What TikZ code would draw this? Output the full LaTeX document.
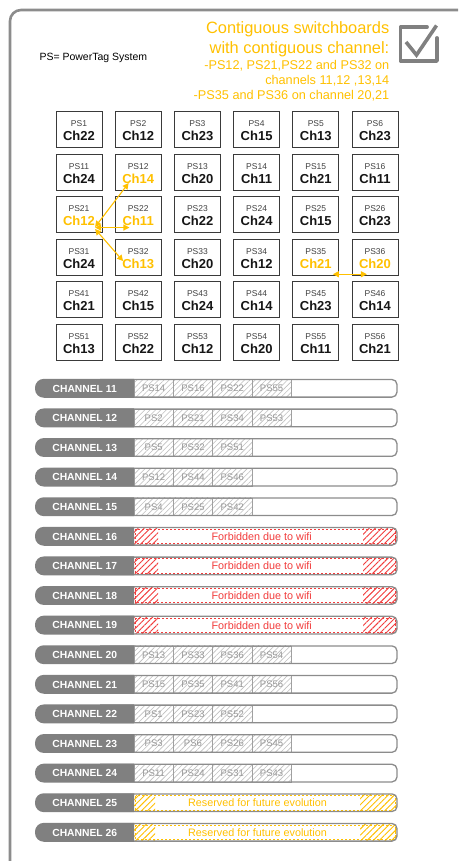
\documentclass[tikz,border=0pt]{standalone}
\usepackage{fontspec}
\setmainfont{Liberation Sans}
\usetikzlibrary{patterns.meta,arrows.meta}
\definecolor{framegray}{HTML}{8C8C8C}
\definecolor{pillgray}{HTML}{808080}
\definecolor{orng}{HTML}{FFC000}
\definecolor{redf}{HTML}{F23C3C}
\definecolor{boxline}{HTML}{3A3A3A}
\definecolor{pstext}{HTML}{404040}
\definecolor{chk}{HTML}{151515}
\definecolor{cellline}{HTML}{A0A0A0}
\definecolor{hatchgray}{HTML}{BFBFBF}
\definecolor{celltext}{HTML}{999999}
\newcommand\fs[1]{\fontsize{#1}{#1}\selectfont}
\tikzset{
  psbox/.style={draw=boxline, line width=0.9pt, minimum width=46pt, minimum height=36pt, inner sep=0pt},
  pslab/.style={font=\fs{8.5}, text=pstext, inner sep=0pt, anchor=base},
  chlab/.style={font=\bfseries\fs{13}, inner sep=0pt, anchor=base},
  conn/.style={{Triangle[length=6pt,width=6pt]}-{Triangle[length=6pt,width=6pt]}, draw=orng, line width=1.1pt},
  baroutline/.style={draw=framegray, line width=1.3pt, rounded corners=5pt},
  chanlab/.style={font=\bfseries\fs{10.3}, text=white, inner sep=0pt, text height=7.4pt, text depth=0pt},
  pscell/.style={draw=cellline, line width=0.6pt, minimum width=39.3pt, minimum height=17.6pt, inner sep=0pt,
    pattern={Lines[angle=45,distance=3.8pt,line width=0.6pt]}, pattern color=hatchgray,
    font=\fs{9.5}, text=celltext, text height=6.8pt, text depth=0pt},
  notelab/.style={font=\fs{10.8}, inner sep=0pt, text height=7.8pt, text depth=0pt},
  hdr/.style={inner sep=0pt, anchor=base east, text=orng},
}
\newcommand\barbase[3]{% #1 = top, #2 = bottom, #3 = channel number
  \begin{scope}
    \clip (100,#1-3) rectangle (400,#2+3);
    \draw[baroutline] (35,#1) rectangle (397,#2);
  \end{scope}
  \begin{scope}
    \clip (30,#1-3) rectangle (134,#2+3);
    \fill[pillgray, rounded corners=8.8pt] (35,#1-0.65) rectangle (160,#2+0.65);
  \end{scope}
}
\begin{document}
\begin{tikzpicture}[x=1pt,y=-1pt]
\useasboundingbox (0,0) rectangle (458,861);
\clip (0,0) rectangle (458,861);
% outer frame
\draw[framegray, line width=2.6pt, rounded corners=11pt] (10,10) rectangle (480,890);
% header
\node[inner sep=0pt, anchor=base west, font=\fs{10.5}] (legend) at (39.3,61) {PS= PowerTag System};
\node[hdr, font=\fs{16.4}] (t1) at (389.5,33.3) {Contiguous switchboards};
\node[hdr, font=\fs{16.4}] (t2) at (389.5,53.3) {with contiguous channel:};
\node[hdr, font=\fs{12.7}] (t3) at (389.5,70) {-PS12, PS21,PS22 and PS32 on};
\node[hdr, font=\fs{12.7}] (t4) at (389.5,85) {channels 11,12 ,13,14};
\node[hdr, font=\fs{12.7}] (t5) at (389.5,100) {-PS35 and PS36 on channel 20,21};
% check box
\draw[pillgray, line width=3.8pt, line join=round, line cap=round] (427,27) -- (400.5,27) -- (400.5,61) -- (437,61) -- (437,38);
\draw[pillgray, line width=3.6pt, line join=miter, line cap=butt] (406,42) -- (416.5,55) -- (436.5,25.5);
% grid
\foreach \r/\vals in {
  1/{22/chk,12/chk,23/chk,15/chk,13/chk,23/chk},
  2/{24/chk,14/orng,20/chk,11/chk,21/chk,11/chk},
  3/{12/orng,11/orng,22/chk,24/chk,15/chk,23/chk},
  4/{24/chk,13/orng,20/chk,12/chk,21/orng,20/orng},
  5/{21/chk,15/chk,24/chk,14/chk,23/chk,14/chk},
  6/{13/chk,22/chk,12/chk,20/chk,11/chk,21/chk}}{
  \pgfmathtruncatemacro\rr{\r-1}
  \foreach \v/\cl [count=\c] in \vals {
    \pgfmathsetmacro\cx{56+59.2*(\c-1)+23}
    \pgfmathsetmacro\ty{111.7+42.5*(\r-1)}
    \node[psbox] (b\r\c) at (\cx,\ty+18) {};
    \node[pslab] (ps\r\c) at (\cx,\ty+15) {\ifnum\r=1 PS\c\else PS\rr\c\fi};
    \node[chlab, text=\cl] (ch\r\c) at (\cx,\ty+29) {Ch\v};
  }
}
% contiguity arrows
\draw[conn] ([yshift=-1pt]ch31.south east) -- ([xshift=6.5pt,yshift=0.5pt]ch22.south west);
\draw[conn] ([yshift=-1.5pt]ch31.south east) -- ([xshift=7pt,yshift=-1.5pt]ch32.south west);
\draw[conn] ([yshift=-3pt]ch31.south east) -- ([xshift=1pt,yshift=-2.5pt]ch42.north west);
\draw[conn] ([xshift=1pt,yshift=-5.7pt]ch45.south east) -- ([xshift=8pt,yshift=-5.7pt]ch46.south west);
% channels with PowerTags
\foreach \i/\n/\cells in {0/11/{PS14,PS16,PS22,PS55},1/12/{PS2,PS21,PS34,PS53},2/13/{PS5,PS32,PS51},
  3/14/{PS12,PS44,PS46},4/15/{PS4,PS25,PS42},9/20/{PS13,PS33,PS36,PS54},10/21/{PS15,PS35,PS41,PS56},
  11/22/{PS1,PS23,PS52},12/23/{PS3,PS6,PS26,PS45},13/24/{PS11,PS24,PS31,PS43}}{
  \pgfmathsetmacro\yc{388.3+29.6*\i}
  \pgfmathsetmacro\yt{\yc-8.8}
  \pgfmathsetmacro\yb{\yc+8.8}
  \fill[white, rounded corners=5pt] (35,\yt) rectangle (397,\yb);
  \foreach \c [count=\k from 0] in \cells {
    \node[pscell] (cell\n-\k) at ({134+39.3*\k+19.65},\yc) {\c};
  }
  \barbase{\yt}{\yb}{\n}
  \node[chanlab] (lab\n) at (84.7,\yc) {CHANNEL \n};
}
% special channels
\foreach \i/\n/\col/\txt/\xa/\xb/\xt in {5/16/redf/Forbidden due to wifi/158/363/261.7,
  6/17/redf/Forbidden due to wifi/158/363/261.7,
  7/18/redf/Forbidden due to wifi/158/363/261.7,
  8/19/redf/Forbidden due to wifi/158/363/261.7,
  14/25/orng/Reserved for future evolution/155/360/257.5,
  15/26/orng/Reserved for future evolution/155/360/257.5}{
  \pgfmathsetmacro\yc{388.3+29.6*\i}
  \pgfmathsetmacro\yt{\yc-8.8}
  \pgfmathsetmacro\yb{\yc+8.8}
  \fill[white, rounded corners=5pt] (35,\yt) rectangle (397,\yb);
  \begin{scope}
    \clip[rounded corners=5pt] (35,\yt) rectangle (397,\yb);
    \fill[pattern={Lines[angle=45,distance=4.3pt,line width=0.9pt]}, pattern color=\col] (134,\yt) rectangle (\xa,\yb);
    \fill[pattern={Lines[angle=45,distance=4.3pt,line width=0.9pt]}, pattern color=\col] (\xb,\yt) rectangle (397,\yb);
    \draw[\col, line width=0.8pt, dash pattern=on 2.2pt off 1.8pt] (135.5,\yt+1.6) rectangle (395.2,\yb-1.6);
  \end{scope}
  \barbase{\yt}{\yb}{\n}
  \node[chanlab] (lab\n) at (84.7,\yc) {CHANNEL \n};
  \node[notelab, text=\col] (note\n) at (\xt,\yc) {\txt};
}
\end{tikzpicture}
\end{document}
